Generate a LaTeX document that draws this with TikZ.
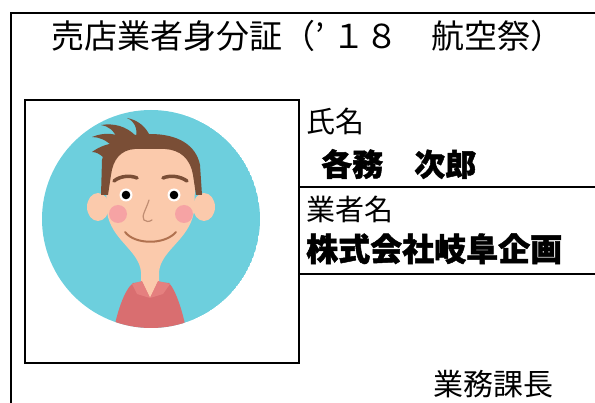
\documentclass[tikz,border=0pt]{standalone}
\usepackage{fontspec}
\setmainfont{Noto Sans CJK JP}[BoldFeatures={FakeBold=1.5}]
\usepackage{xcolor}
\usepackage{tikz}
\usetikzlibrary{calc, positioning}
\definecolor{sky}{HTML}{6DCFDD}
\definecolor{skin}{HTML}{FBCAAC}
\definecolor{hair}{HTML}{7A4E36}
\definecolor{cheek}{HTML}{F6A3A4}
\definecolor{shirt}{HTML}{D96E70}
\definecolor{collar}{HTML}{E5807F}
\definecolor{mouth}{HTML}{B0714F}
\tikzset{
    frame/.style={draw=black, line width=2.5pt},
    rule/.style={draw=black, line width=2pt},
    photo/.style={rectangle, draw=black, line width=2pt, minimum width=274pt, minimum height=263pt, inner sep=0pt},
    title/.style={anchor=base west, inner sep=0pt, font=\fontsize{33}{33}\selectfont},
    caption/.style={anchor=base west, inner sep=0pt, font=\fontsize{29}{29}\selectfont},
    entry/.style={anchor=base west, inner sep=0pt, font=\bfseries\fontsize{32}{32}\selectfont},
    brow/.style={draw=hair, line width=3.5pt, line cap=round},
    nose/.style={draw=mouth!80, line width=1.2pt, line cap=round},
    smile/.style={draw=mouth, line width=2pt, line cap=round}
}

\begin{document}
\begin{tikzpicture}[x=1pt, y=-1pt]
    \useasboundingbox (0,0) rectangle (595,403);
    % Card frame
    \draw[frame] (11,410) -- (11,13) -- (600,13);
    \node[title] (head) at (51,49) {売店業者身分証（’\kern8pt１８　航空祭）};

    % Photo
    \node[photo] (photo) at (162,231.5) {};
    \begin{scope}
        \clip (151,219) circle (109pt);
        \fill[sky] (151,219) circle (109pt);
        % ears and face
        \fill[skin] (98,207) ellipse (11pt and 14pt);
        \fill[skin] (204,207) ellipse (11pt and 14pt);
        \fill[skin] (105,165) -- (107,212) .. controls (111,240) and (139,250) .. (141,272) -- (141,290) -- (150,298) -- (159,290) -- (159,272) .. controls (161,250) and (189,240) .. (194,212) -- (196,165) .. controls (190,140) and (110,140) .. (105,165) -- cycle;
        % shirt
        \fill[shirt] (133,283) -- (142,282) -- (150,298) -- (158,282) -- (169,283) .. controls (176,290) and (184,315) .. (187,335) -- (113,335) .. controls (116,315) and (124,290) .. (133,283) -- cycle;
        \fill[collar] (132,284) -- (142,281) -- (150,298) -- (137,294) -- cycle;
        \fill[collar] (170,284) -- (158,281) -- (150,298) -- (163,294) -- cycle;
        % hair
        \fill[hair] (101,195) -- (102,160) .. controls (106,140) and (125,134) .. (150,134) .. controls (178,134) and (196,145) .. (200,165) -- (202,195) -- (196,195) -- (193,175) .. controls (190,158) and (180,150) .. (165,149) -- (135,149) .. controls (120,150) and (113,160) .. (111,175) -- (108,195) -- cycle;
        \fill[hair] (136,138) .. controls (138,128) and (134,121) .. (127,118) .. controls (138,120) and (146,127) .. (150,136) -- cycle;
        \fill[hair] (118,140) .. controls (114,130) and (108,126) .. (101,125) .. controls (114,123) and (126,126) .. (136,136) -- cycle;
        \fill[hair] (112,146) .. controls (106,140) and (99,137) .. (92,137) .. controls (104,132) and (116,133) .. (126,139) -- cycle;
        \fill[hair] (104,158) .. controls (100,154) and (96,152) .. (92,152) .. controls (100,146) and (110,143) .. (118,143) -- cycle;
        \draw[brow] (114,181) .. controls (120,176) and (130,175) .. (137,178);
        \draw[brow] (163,178) .. controls (170,175) and (180,176) .. (187,181);
        % eyes, cheeks, nose, mouth
        \foreach \x in {126,174} {
            \fill[white] (\x,195) circle (6.5pt);
            \fill[black] (\x,195) circle (4.3pt);
        }
        \foreach \x in {118,184}
            \fill[cheek] (\x,214) circle (9pt);
        \draw[nose] (149,200) .. controls (146,210) and (141,216) .. (144,220) .. controls (146,222) and (149,222) .. (152,220);
        \draw[smile] (125,232) .. controls (135,245) and (165,245) .. (176,232);
    \end{scope}

    % Fields
    \draw[rule] (photo.north east |- 0,187) -- (600,187);
    \draw[rule] (photo.north east |- 0,274) -- (600,274);
    \node[caption] (namelbl) at (306,133) {氏名};
    \node[entry, font=\bfseries\fontsize{31}{31}\selectfont] (name) at (321,176) {各務　次郎};
    \node[caption] (firmlbl) at (306,221) {業者名};
    \node[entry] (firm) at (306,261) {株式会社岐阜企画};
    \node[caption, font=\fontsize{30}{30}\selectfont] (rank) at (433,396) {業務課長};
\end{tikzpicture}
\end{document}
